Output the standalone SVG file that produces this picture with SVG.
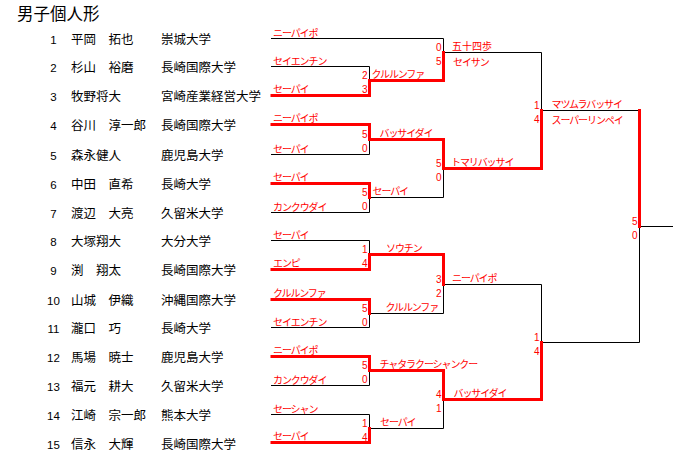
<svg xmlns="http://www.w3.org/2000/svg" width="688" height="462" viewBox="0 0 688 462">
<style>
.ttl{font-family:"Noto Sans CJK JP",sans-serif;font-size:16.5px;fill:#000}
.num{font-family:"Liberation Sans",sans-serif;font-size:11.5px;fill:#000;text-anchor:middle}
.nm,.un{font-family:"Noto Sans CJK JP",sans-serif;font-size:12.5px;fill:#000}
.k{font-family:"Noto Sans CJK JP",sans-serif;font-size:10px;fill:#f00;letter-spacing:-1.1px}
.kj{font-family:"Noto Sans CJK JP",sans-serif;font-size:10px;fill:#f00}
.sc{font-family:"Liberation Sans",sans-serif;font-size:10px;fill:#f00;text-anchor:end}
.bl{fill:none;stroke:#000;stroke-width:1}
.rd{fill:none;stroke:#f00;stroke-width:3;stroke-linejoin:miter;stroke-linecap:square}
</style>
<rect width="688" height="462" fill="#fff"/>
<text class="ttl" x="17" y="20">男子個人形</text>

<g id="connectors">
<g class="bl">
<path d="M271 38.5H443.5V52.5"/>
<path d="M271 66.5H369.5V80.5"/>
<path d="M271 154.5H369.5V139.5"/>
<path d="M271 212.5H369.5V197.5"/>
<path d="M271 240.5H369.5V254.5"/>
<path d="M271 327.5H369.5V313.5"/>
<path d="M271 385.5H369.5V370.5"/>
<path d="M271 414.5H369.5V428.5"/>
<path d="M369.5 197.5H443.5V168.5"/>
<path d="M369.5 313.5H443.5V284.5"/>
<path d="M369.5 428.5H443.5V399.5"/>
<path d="M443.5 52.5H541.5V110.5"/>
<path d="M443.5 284.5H541.5V342.5"/>
<path d="M541.5 110.5H639.5"/>
<path d="M541.5 342.5H639.5V226.5"/>
<path d="M639.5 226.5H673"/>
</g>
<g class="rd">
<path d="M272 95.5H369.5V80.5"/>
<path d="M369.5 80.5H443.5V52.5"/>
<path d="M272 124.5H369.5V139.5"/>
<path d="M369.5 139.5H443.5V168.5"/>
<path d="M443.5 168.5H541.5V110.5"/>
<path d="M639.5 110.5V226.5"/>
<path d="M272 183.5H369.5V197.5"/>
<path d="M272 269.5H369.5V254.5"/>
<path d="M369.5 254.5H443.5V284.5"/>
<path d="M272 299.5H369.5V313.5"/>
<path d="M272 356.5H369.5V370.5"/>
<path d="M369.5 370.5H443.5V399.5"/>
<path d="M443.5 399.5H541.5V342.5"/>
<path d="M272 442.5H369.5V428.5"/>
</g>
</g>

<g id="p1"><text class="num" x="53.5" y="44">1</text><text class="nm" x="71" y="44">平岡　拓也</text><text class="un" x="161" y="44">崇城大学</text><text class="k" x="273" y="36.5">ニーパイポ</text></g>
<g id="p2"><text class="num" x="53.5" y="72">2</text><text class="nm" x="71" y="72">杉山　裕磨</text><text class="un" x="161" y="72">長崎国際大学</text><text class="k" x="273" y="64.5">セイエンチン</text></g>
<g id="p3"><text class="num" x="53.5" y="101">3</text><text class="nm" x="71" y="101">牧野将大</text><text class="un" x="161" y="101">宮崎産業経営大学</text><text class="k" x="273" y="92.5">セーパイ</text></g>
<g id="p4"><text class="num" x="53.5" y="130">4</text><text class="nm" x="71" y="130">谷川　淳一郎</text><text class="un" x="161" y="130">長崎国際大学</text><text class="k" x="273" y="121.5">ニーパイポ</text></g>
<g id="p5"><text class="num" x="53.5" y="160">5</text><text class="nm" x="71" y="160">森永健人</text><text class="un" x="161" y="160">鹿児島大学</text><text class="k" x="273" y="152.5">セーパイ</text></g>
<g id="p6"><text class="num" x="53.5" y="189">6</text><text class="nm" x="71" y="189">中田　直希</text><text class="un" x="161" y="189">長崎大学</text><text class="k" x="273" y="180.5">セーパイ</text></g>
<g id="p7"><text class="num" x="53.5" y="218">7</text><text class="nm" x="71" y="218">渡辺　大亮</text><text class="un" x="161" y="218">久留米大学</text><text class="k" x="273" y="210.5">カンクウダイ</text></g>
<g id="p8"><text class="num" x="53.5" y="246">8</text><text class="nm" x="71" y="246">大塚翔大</text><text class="un" x="161" y="246">大分大学</text><text class="k" x="273" y="238.5">セーパイ</text></g>
<g id="p9"><text class="num" x="53.5" y="275">9</text><text class="nm" x="71" y="275">渕　翔太</text><text class="un" x="161" y="275">長崎国際大学</text><text class="k" x="273" y="266.5">エンピ</text></g>
<g id="p10"><text class="num" x="53.5" y="305">10</text><text class="nm" x="71" y="305">山城　伊織</text><text class="un" x="161" y="305">沖縄国際大学</text><text class="k" x="273" y="296.5">クルルンファ</text></g>
<g id="p11"><text class="num" x="53.5" y="333">11</text><text class="nm" x="71" y="333">瀧口　巧</text><text class="un" x="161" y="333">長崎大学</text><text class="k" x="273" y="325.5">セイエンチン</text></g>
<g id="p12"><text class="num" x="53.5" y="362">12</text><text class="nm" x="71" y="362">馬場　暁士</text><text class="un" x="161" y="362">鹿児島大学</text><text class="k" x="273" y="353.5">ニーパイポ</text></g>
<g id="p13"><text class="num" x="53.5" y="391">13</text><text class="nm" x="71" y="391">福元　耕大</text><text class="un" x="161" y="391">久留米大学</text><text class="k" x="273" y="383.5">カンクウダイ</text></g>
<g id="p14"><text class="num" x="53.5" y="420">14</text><text class="nm" x="71" y="420">江崎　宗一郎</text><text class="un" x="161" y="420">熊本大学</text><text class="k" x="273" y="412.5">セーシャン</text></g>
<g id="p15"><text class="num" x="53.5" y="449">15</text><text class="nm" x="71" y="449">信永　大輝</text><text class="un" x="161" y="449">長崎国際大学</text><text class="k" x="273" y="439.5">セーパイ</text></g>

<g id="r1">
<text class="k" x="371.5" y="78">クルルンファ</text>
<text class="sc" x="367.5" y="79">2</text><text class="sc" x="367.5" y="93">3</text>
<text class="k" x="379.5" y="137">バッサイダイ</text>
<text class="sc" x="367.5" y="138">5</text><text class="sc" x="367.5" y="152">0</text>
<text class="k" x="372.5" y="195">セーパイ</text>
<text class="sc" x="367.5" y="196">5</text><text class="sc" x="367.5" y="210">0</text>
<text class="k" x="386" y="252">ソウチン</text>
<text class="sc" x="367.5" y="253">1</text><text class="sc" x="367.5" y="267">4</text>
<text class="k" x="385.5" y="311">クルルンファ</text>
<text class="sc" x="367.5" y="312">5</text><text class="sc" x="367.5" y="326">0</text>
<text class="k" x="379.5" y="368">チャタラクーシャンクー</text>
<text class="sc" x="367.5" y="369">5</text><text class="sc" x="367.5" y="383">0</text>
<text class="k" x="380" y="426">セーパイ</text>
<text class="sc" x="367.5" y="427">1</text><text class="sc" x="367.5" y="441">4</text>
</g>
<g id="r2">
<text class="kj" x="452" y="50">五十四歩</text>
<text class="k" x="453" y="65.5">セイサン</text>
<text class="sc" x="441.5" y="51">0</text><text class="sc" x="441.5" y="65">5</text>
<text class="k" x="451" y="166">トマリバッサイ</text>
<text class="sc" x="441.5" y="167">5</text><text class="sc" x="441.5" y="181">0</text>
<text class="k" x="452" y="282">ニーパイポ</text>
<text class="sc" x="441.5" y="283">3</text><text class="sc" x="441.5" y="297">2</text>
<text class="k" x="453.5" y="397">バッサイダイ</text>
<text class="sc" x="441.5" y="398">4</text><text class="sc" x="441.5" y="412">1</text>
</g>
<g id="r3">
<text class="k" x="551.5" y="108">マツムラバッサイ</text>
<text class="k" x="551.5" y="124">スーパーリンペイ</text>
<text class="sc" x="539.5" y="109">1</text><text class="sc" x="539.5" y="123">4</text>
<text class="sc" x="539.5" y="341">1</text><text class="sc" x="539.5" y="355">4</text>
</g>
<g id="final">
<text class="sc" x="637.5" y="225">5</text><text class="sc" x="637.5" y="239">0</text>
</g>
</svg>
